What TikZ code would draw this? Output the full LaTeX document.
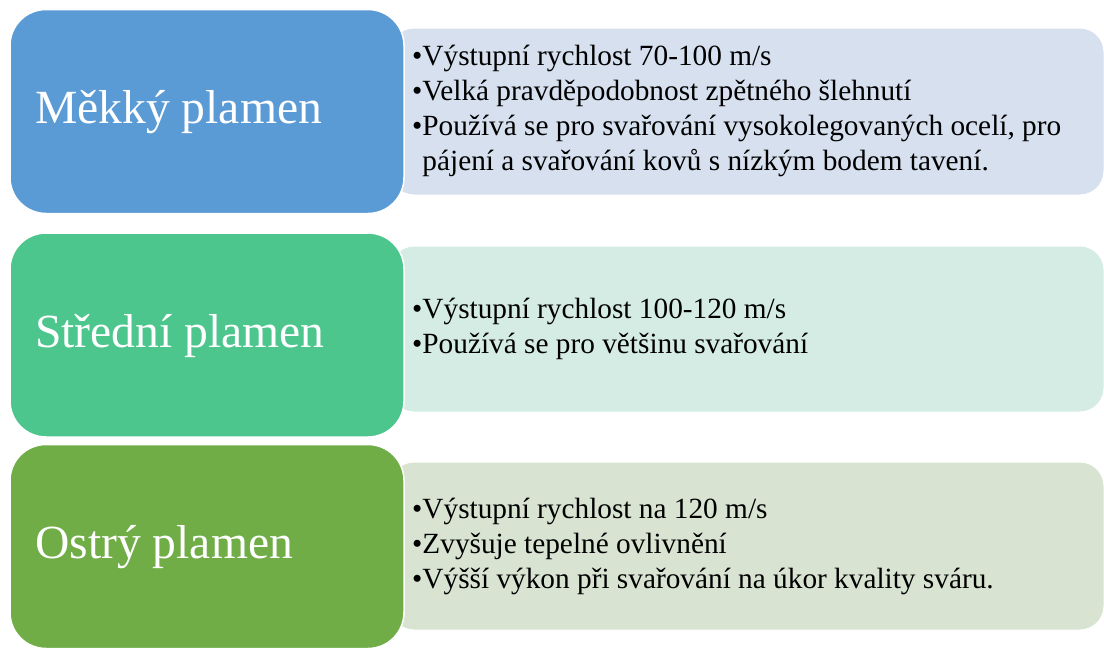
\documentclass[tikz,border=0pt]{standalone}
\usepackage{fontspec}
\setmainfont{Liberation Serif}
\definecolor{softblue}{HTML}{5B9BD5}
\definecolor{softbluebg}{HTML}{D6E0EF}
\definecolor{midteal}{HTML}{4DC68D}
\definecolor{midtealbg}{HTML}{D5ECE4}
\definecolor{sharpgreen}{HTML}{70AD47}
\definecolor{sharpgreenbg}{HTML}{D9E3D2}
\newcommand{\hang}{\phantom{•}}

\begin{document}
\begin{tikzpicture}[x=1pt,y=-1pt]
      \tikzset{
        headbox/.style={rounded corners=36pt,draw=white,line width=1.5pt,minimum width=394pt,minimum height=204pt,inner sep=0pt},
        infobox/.style={rounded corners=24pt,draw=white,line width=1pt,minimum width=714pt,inner sep=0pt},
        headtext/.style={anchor=west,inner sep=0pt,text=white,font=\fontsize{47.6}{55}\selectfont},
        infotext/.style={anchor=west,inner sep=0pt,align=left,font=\fontsize{29.3}{35}\selectfont}
      }
      \useasboundingbox (0,0) rectangle (1104,648);

      % right hand boxes (behind)
      \node[infobox,fill=softbluebg,minimum height=167pt] (soft info) at (747,111.5) {};
      \node[infobox,fill=midtealbg,minimum height=166pt] (mid info) at (747,329) {};
      \node[infobox,fill=sharpgreenbg,minimum height=168pt] (sharp info) at (747,546) {};

      % left hand boxes
      \node[headbox,fill=softblue] (soft) at (207,111.5) {};
      \node[headbox,fill=midteal] (mid) at (207,335) {};
      \node[headbox,fill=sharpgreen] (sharp) at (207,546.5) {};

      \node[headtext] (soft title) at (35,112) {Měkký plamen};
      \node[headtext] (mid title) at (35,336) {Střední plamen};
      \node[headtext] (sharp title) at (35,547) {Ostrý plamen};

      \node[infotext] (soft text) at (412,111) {•Výstupní rychlost 70-100 m/s\\
        •Velká pravděpodobnost zpětného šlehnutí\\
        •Používá se pro svařování vysokolegovaných ocelí, pro\\
        \hang pájení a svařování kovů s nízkým bodem tavení.};
      \node[infotext] (mid text) at (412,329) {•Výstupní rychlost 100-120 m/s\\
        •Používá se pro většinu svařování};
      \node[infotext] (sharp text) at (412,546) {•Výstupní rychlost na 120 m/s\\
        •Zvyšuje tepelné ovlivnění\\
        •Výšší výkon při svařování na úkor kvality sváru.};
    \end{tikzpicture}
\end{document}
